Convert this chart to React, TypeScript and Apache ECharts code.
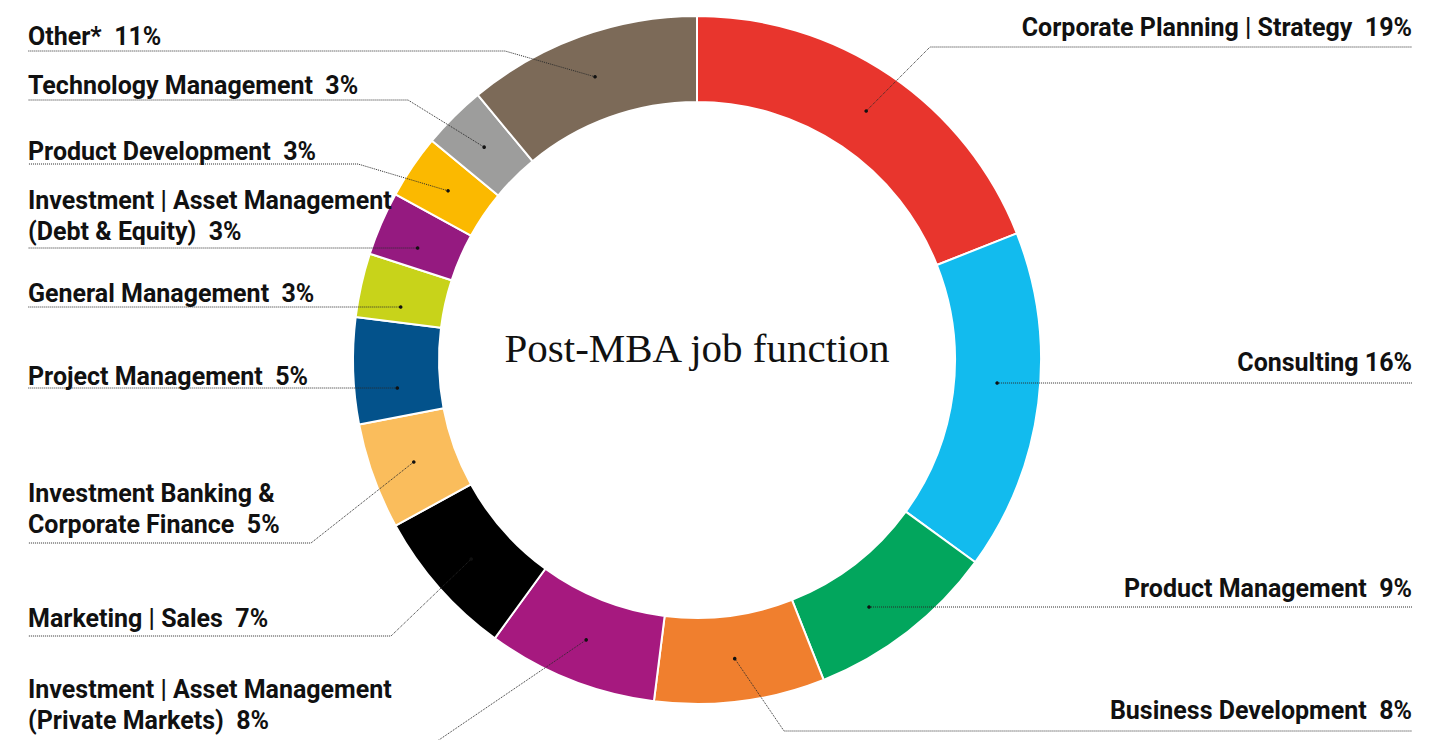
import React, { useEffect, useRef } from 'react';
import * as echarts from 'echarts';

// ---- data ----
const categories = [
  'Corporate Planning | Strategy',
  'Consulting',
  'Product Management',
  'Business Development',
  'Investment | Asset Management\n(Private Markets)',
  'Marketing | Sales',
  'Investment Banking &\nCorporate Finance',
  'Project Management',
  'General Management',
  'Investment | Asset Management\n(Debt & Equity)',
  'Product Development',
  'Technology Management',
  'Other*',
];
const values = [19, 16, 9, 8, 8, 7, 5, 5, 3, 3, 3, 3, 11];
const colors = [
  '#E8352D', '#12BBEE', '#02A65D', '#F07F2E', '#A6197F', '#000000', '#FABD5C',
  '#03528B', '#C8D31A', '#951A80', '#FBB900', '#9D9D9C', '#7C6A58',
];
const title = 'Post-MBA job function';

// ---- label layout (positions only) ----
const labelSide = ['R', 'R', 'R', 'R', 'L', 'L', 'L', 'L', 'L', 'L', 'L', 'L', 'L'];
const labelTextY = [27, 362, 588, 710, 720, 618, 524, 376, 293, 231, 151, 85, 36];
const labelLineY = [47, 383, 607, 731, 746, 636, 543, 388, 307, 248, 164, 100, 51];
const labelElbowX: (number | null)[] = [930, null, null, 784, 430, 391, 311, null, null, null, 358, 408, 505];

const W = 1449;
const H = 740;
const CX = 697;
const CY = 360;
const R0 = 258;
const R1 = 344;
const RM = (R0 + R1) / 2;
const LEFT_X = 28;
const RIGHT_X = 1412;
const LINE_H = 31;
const FONT = 'Roboto, "Noto Sans", sans-serif';

const total = values.reduce((a, b) => a + b, 0);

function anchor(i: number): number[] {
  if (labelElbowX[i] == null) {
    const dy = labelLineY[i] - CY;
    const dx = Math.sqrt(RM * RM - dy * dy);
    return [labelSide[i] === 'R' ? CX + dx : CX - dx, labelLineY[i]];
  }
  let cum = 0;
  for (let j = 0; j < i; j++) cum += values[j];
  const th = ((cum + values[i] / 2) / total) * Math.PI * 2;
  return [CX + RM * Math.sin(th), CY - RM * Math.cos(th)];
}

function linePoints(i: number): number[][] {
  const a = anchor(i);
  const endX = labelSide[i] === 'L' ? LEFT_X : RIGHT_X;
  const pts = [a];
  const ex = labelElbowX[i];
  if (ex != null) pts.push([ex, labelLineY[i]]);
  pts.push([endX, labelLineY[i]]);
  return pts;
}

export default function App() {
  const ref = useRef<HTMLDivElement>(null);
  useEffect(() => {
    if (!ref.current) return;
    const chart = echarts.init(ref.current, undefined, { renderer: 'svg' });
    const dots = categories.map((_, i) => {
      const a = anchor(i);
      return {
        type: 'circle',
        shape: { cx: a[0], cy: a[1], r: 1.8 },
        style: { fill: '#111111' },
        z: 100,
        silent: true,
      };
    });
    const pieData = categories.map((name, i) => ({
      name,
      value: values[i],
      itemStyle: { color: colors[i] },
    }));
    chart.setOption({
      animation: false,
      backgroundColor: '#ffffff',
      series: [
        {
          type: 'pie',
          z: 2,
          center: [CX, CY],
          radius: [R0, R1],
          startAngle: 90,
          clockwise: true,
          silent: true,
          emphasis: { disabled: true },
          itemStyle: { borderColor: '#ffffff', borderWidth: 2 },
          data: pieData,
          label: { show: false },
          labelLine: { show: false },
        },
        {
          type: 'pie',
          z: 5,
          center: [CX, CY],
          radius: [R0, R1],
          startAngle: 90,
          clockwise: true,
          avoidLabelOverlap: false,
          silent: true,
          emphasis: { disabled: true },
          itemStyle: { color: 'rgba(0,0,0,0)', borderWidth: 0 },
          data: categories.map((name, i) => ({ name, value: values[i] })),
          label: {
            show: true,
            position: 'outside',
            formatter: (p: any) =>
              `${p.name}${p.name === 'Consulting' ? ' ' : '  '}${p.value}%`,
            fontFamily: FONT,
            fontWeight: 'bold',
            fontSize: 25,
            lineHeight: LINE_H,
            color: '#111111',
          },
          labelLine: {
            show: true,
            smooth: false,
            lineStyle: { color: '#2a2a2a', width: 1, type: [1, 1] },
          },
          labelLayout: (p: any) => {
            const i = p.dataIndex;
            return {
              x: labelSide[i] === 'L' ? LEFT_X : RIGHT_X,
              y: labelTextY[i] + LINE_H / 2,
              align: labelSide[i] === 'L' ? 'left' : 'right',
              verticalAlign: 'bottom',
              labelLinePoints: linePoints(i),
            };
          },
        },
      ],
      graphic: [
        {
          type: 'text',
          x: CX,
          y: CY - 12,
          silent: true,
          style: {
            text: title,
            align: 'center',
            verticalAlign: 'middle',
            fontFamily: '"Liberation Serif", "DejaVu Serif", serif',
            fontSize: 41,
            fill: '#111111',
          },
        },
        ...dots,
      ],
    });
    return () => chart.dispose();
  }, []);
  return (
    <div
      ref={ref}
      style={{ position: 'absolute', left: 0, top: 0, width: W, height: H }}
    />
  );
}
